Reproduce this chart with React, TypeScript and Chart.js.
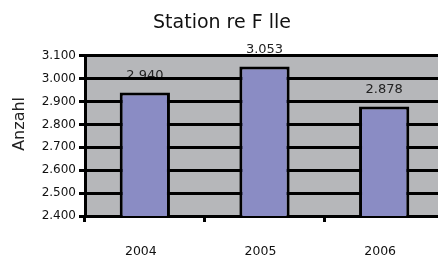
import React, { useEffect, useRef } from "react";
import { Chart, registerables } from "chart.js";

Chart.register(...registerables);

const categories = ["2004", "2005", "2006"];
const values = [2940, 3053, 2878];
const yMin = 2400;
const yMax = 3100;
const yStep = 100;
const titleText = "Station re F lle";
const yTitle = "Anzahl";

const FONT = "'DejaVu Sans', sans-serif";

function fmt(v: number) {
  return (v / 1000).toFixed(3);
}

const bgPlugin = {
  id: "bgAndLabels",
  beforeDraw(chart: any) {
    const { ctx, chartArea } = chart;
    ctx.save();
    ctx.fillStyle = "#b6b7ba";
    ctx.fillRect(chartArea.left, chartArea.top, chartArea.right - chartArea.left, chartArea.bottom - chartArea.top);
    const meta = chart.getDatasetMeta(0);
    const ys = chart.scales.y;
    ctx.fillStyle = "#222";
    ctx.font = "13px " + FONT;
    ctx.textAlign = "center";
    ctx.textBaseline = "middle";
    meta.data.forEach((el: any, i: number) => {
      const y = ys.getPixelForValue(values[i]);
      ctx.fillText(fmt(values[i]), el.x, y - 17);
    });
    ctx.restore();
  },
  afterDraw(chart: any) {
    const { ctx, chartArea } = chart;
    ctx.save();
    ctx.fillStyle = "#222";
    ctx.font = "16px " + FONT;
    ctx.textAlign = "center";
    ctx.textBaseline = "middle";
    ctx.translate(20, (chartArea.top + chartArea.bottom) / 2 - 12);
    ctx.rotate(-Math.PI / 2);
    ctx.fillText(yTitle, 0, 0);
    ctx.restore();
  },
};

export default function App() {
  const ref = useRef<HTMLCanvasElement>(null);
  useEffect(() => {
    if (!ref.current) return;
    const chart = new Chart(ref.current, {
      type: "bar",
      data: {
        labels: categories,
        datasets: [
          {
            data: values,
            backgroundColor: "#8a8cc4",
            borderColor: "#000",
            borderWidth: 3,
            categoryPercentage: 1,
            barPercentage: 0.42,
          },
        ],
      },
      options: {
        animation: false,
        responsive: false,
        layout: { padding: { left: 0, right: 0, top: 0, bottom: 0 } },
        plugins: {
          legend: { display: false },
          tooltip: { enabled: false },
          title: {
            display: true,
            text: titleText,
            color: "#111",
            font: { family: FONT, size: 19, weight: "normal" },
            padding: { top: 12, bottom: 21 },
          },
        },
        scales: {
          x: {
            afterFit(scale: any) {
              scale.height = 42;
            },
            grid: {
              offset: true,
              drawOnChartArea: false,
              drawTicks: true,
              tickLength: 6,
              color: "#000",
              lineWidth: 3,
            },
            border: { color: "#000", width: 3 },
            ticks: {
              color: "#111",
              font: { family: FONT, size: 12.5 },
              padding: 22,
              labelOffset: -4,
            },
          },
          y: {
            min: yMin,
            max: yMax,
            afterFit(scale: any) {
              scale.width = 85;
            },
            grid: {
              color: "#000",
              lineWidth: 3,
              tickLength: 6,
              drawTicks: true,
            },
            border: { color: "#000", width: 3 },
            ticks: {
              stepSize: yStep,
              color: "#111",
              font: { family: FONT, size: 12 },
              padding: 3,
              callback: (v: any) => fmt(Number(v)),
            },
            title: { display: false },
          },
        },
      },
      plugins: [bgPlugin],
    });
    return () => chart.destroy();
  }, []);
  return (
    <div style={{ position: "fixed", left: 0, top: 0, width: 438, height: 258, overflow: "hidden", background: "#fff" }}>
      <canvas ref={ref} width={444} height={258} style={{ display: "block" }} />
    </div>
  );
}
